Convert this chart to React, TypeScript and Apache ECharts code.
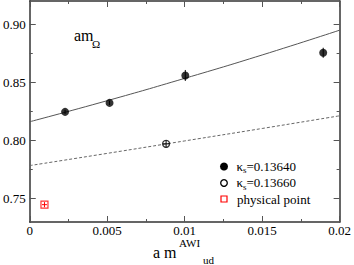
import React, { useEffect, useRef } from "react";
import * as echarts from "echarts";

// ---- data ----
const filledX = [0.00228, 0.00515, 0.01004, 0.01894];
const filledY = [0.8247, 0.8324, 0.856, 0.8755];
const filledYErr = [0.0018, 0.0018, 0.0047, 0.0043];

const openX = [0.0088];
const openY = [0.7972];
const openYErr = [0.0028];
const openXErr = [0.0002];

const physX = [0.00095];
const physY = [0.7449];
const physYErr = [0.0022];
const physXErr = [0.00016];

const fitX = [0, 0.005, 0.01, 0.015, 0.02];
const fitSolid = [0.8162, 0.8343, 0.8535, 0.8736, 0.8949];
const fitDashed = [0.7785, 0.789, 0.7997, 0.8104, 0.8213];

const yMajorTicks = [0.75, 0.8, 0.85, 0.9];
const yMinorTicks = [0.775, 0.825, 0.875];

const legendNames = ["=0.13640", "=0.13660", "physical point"];

const FAMILY = "Liberation Serif";
const FONT = '"Liberation Serif", serif';

export default function App() {
  const ref = useRef<HTMLDivElement>(null);
  useEffect(() => {
    if (!ref.current) return;
    const chart = echarts.init(ref.current, null, { renderer: "svg" });

    const axisLineStyle = { color: "#333", width: 1.5 };
    const tickStyle = { color: "#555", width: 1 };

    const xCommon = {
      type: "value",
      min: 0,
      max: 0.02,
      interval: 0.005,
      splitLine: { show: false },
      axisLine: { show: true, lineStyle: axisLineStyle },
      axisTick: { show: true, inside: true, length: 6, lineStyle: tickStyle },
      minorTick: { show: true, splitNumber: 2, length: 3, lineStyle: tickStyle },
    };

    const yCommon = {
      type: "value",
      min: 0.73,
      max: 0.92,
      splitLine: { show: false },
    };

    const errData = (xs: number[], ys: number[], xe: number[], ye: number[]) =>
      xs.map((x, i) => [x, ys[i], xe[i], ye[i]]);

    const errRender = (color: string) => (params: any, api: any) => {
      const x = api.value(0);
      const y = api.value(1);
      const dx = api.value(2);
      const dy = api.value(3);
      const lo = api.coord([x, y - dy]);
      const hi = api.coord([x, y + dy]);
      const l = api.coord([x - dx, y]);
      const r = api.coord([x + dx, y]);
      const children: any[] = [
        { type: "line", shape: { x1: lo[0], y1: lo[1], x2: hi[0], y2: hi[1] }, style: { stroke: color, lineWidth: 1 } },
      ];
      if (dx > 0) {
        children.push({ type: "line", shape: { x1: l[0], y1: l[1], x2: r[0], y2: r[1] }, style: { stroke: color, lineWidth: 1 } });
      }
      return { type: "group", children };
    };

    const labelStyle = { fontSize: 13, color: "#000", fontFamily: FAMILY };

    const option: any = {
      animation: false,
      backgroundColor: "#fff",
      textStyle: { fontFamily: FAMILY },
      grid: { left: 27, top: 1, width: 315, height: 221, containLabel: false },
      xAxis: [
        {
          ...xCommon,
          position: "bottom",
          axisLabel: { show: true, ...labelStyle, margin: 2 },
        },
        { ...xCommon, position: "top", axisLabel: { show: false } },
      ],
      yAxis: [
        {
          ...yCommon,
          position: "left",
          axisLine: { show: true, lineStyle: axisLineStyle },
          axisTick: { show: true, inside: true, length: 6, lineStyle: tickStyle, customValues: yMajorTicks },
          axisLabel: {
            show: true,
            ...labelStyle,
            margin: 4,
            customValues: yMajorTicks,
            formatter: (v: number) => v.toFixed(2),
          },
        },
        {
          ...yCommon,
          position: "left",
          axisLine: { show: false },
          axisTick: { show: true, inside: true, length: 3, lineStyle: tickStyle, customValues: yMinorTicks },
          axisLabel: { show: false },
        },
        {
          ...yCommon,
          position: "right",
          axisLine: { show: true, lineStyle: axisLineStyle },
          axisTick: { show: true, inside: true, length: 6, lineStyle: tickStyle, customValues: yMajorTicks },
          axisLabel: { show: false },
        },
        {
          ...yCommon,
          position: "right",
          axisLine: { show: false },
          axisTick: { show: true, inside: true, length: 3, lineStyle: tickStyle, customValues: yMinorTicks },
          axisLabel: { show: false },
        },
      ],
      series: [
        {
          type: "line",
          name: "fit solid",
          data: fitX.map((x, i) => [x, fitSolid[i]]),
          smooth: true,
          showSymbol: false,
          symbol: "none",
          lineStyle: { color: "#555", width: 1 },
          z: 2,
        },
        {
          type: "line",
          name: "fit dashed",
          data: fitX.map((x, i) => [x, fitDashed[i]]),
          smooth: true,
          showSymbol: false,
          symbol: "none",
          lineStyle: { color: "#666", width: 1, type: [3, 2] },
          z: 2,
        },
        {
          type: "custom",
          name: "err black",
          renderItem: errRender("#000"),
          data: [
            ...errData(filledX, filledY, filledX.map(() => 0), filledYErr),
            ...errData(openX, openY, openXErr, openYErr),
          ],
          encode: { x: 0, y: 1 },
          z: 4,
        },
        {
          type: "custom",
          name: "err red",
          renderItem: errRender("#f00"),
          data: errData(physX, physY, physXErr, physYErr),
          encode: { x: 0, y: 1 },
          z: 4,
        },
        {
          type: "scatter",
          name: "κs=0.13640",
          data: filledX.map((x, i) => [x, filledY[i]]),
          symbol: "circle",
          symbolSize: 8,
          itemStyle: { color: "#000" },
          z: 3,
        },
        {
          type: "scatter",
          name: "κs=0.13660",
          data: openX.map((x, i) => [x, openY[i]]),
          symbol: "circle",
          symbolSize: 7,
          itemStyle: { color: "rgba(0,0,0,0)", borderColor: "#000", borderWidth: 1.3 },
          z: 3,
        },
        {
          type: "scatter",
          name: "physical point",
          data: physX.map((x, i) => [x, physY[i]]),
          symbol: "rect",
          symbolSize: 7,
          itemStyle: { color: "rgba(0,0,0,0)", borderColor: "#f00", borderWidth: 1.2 },
          z: 3,
        },
      ],
      graphic: [
        // title am_Ω
        { type: "text", x: 74, y: 35.6, style: { text: "am", font: `16px ${FONT}`, fill: "#000", verticalAlign: "middle" } },
        { type: "text", x: 92, y: 44.3, style: { text: "Ω", font: `11px ${FONT}`, fill: "#000", verticalAlign: "middle" } },
        // x axis title
        { type: "text", x: 153, y: 252, style: { text: "a m", font: `16px ${FONT}`, fill: "#000", verticalAlign: "middle" } },
        { type: "text", x: 179, y: 242.5, style: { text: "AWI", font: `11px ${FONT}`, fill: "#000", verticalAlign: "middle" } },
        { type: "text", x: 203, y: 259.5, style: { text: "ud", font: `11px ${FONT}`, fill: "#000", verticalAlign: "middle" } },
        // legend
        { type: "circle", shape: { cx: 224, cy: 166.5, r: 4 }, style: { fill: "#000" } },
        { type: "text", x: 236.5, y: 166, style: { text: "κ", font: `13px ${FONT}`, fill: "#000", verticalAlign: "middle" } },
        { type: "text", x: 243, y: 170, style: { text: "s", font: `9px ${FONT}`, fill: "#000", verticalAlign: "middle" } },
        { type: "text", x: 246.5, y: 166, style: { text: legendNames[0], font: `13px ${FONT}`, fill: "#000", verticalAlign: "middle" } },

        { type: "circle", shape: { cx: 224, cy: 183, r: 3.3 }, style: { fill: "none", stroke: "#000", lineWidth: 1.3 } },
        { type: "text", x: 236.5, y: 182.5, style: { text: "κ", font: `13px ${FONT}`, fill: "#000", verticalAlign: "middle" } },
        { type: "text", x: 243, y: 186.5, style: { text: "s", font: `9px ${FONT}`, fill: "#000", verticalAlign: "middle" } },
        { type: "text", x: 246.5, y: 182.5, style: { text: legendNames[1], font: `13px ${FONT}`, fill: "#000", verticalAlign: "middle" } },

        { type: "rect", shape: { x: 221, y: 196, width: 6, height: 6 }, style: { fill: "none", stroke: "#f00", lineWidth: 1.2 } },
        { type: "text", x: 237, y: 199, style: { text: legendNames[2], font: `13px ${FONT}`, fill: "#000", verticalAlign: "middle" } },
      ],
    };

    chart.setOption(option);
    return () => chart.dispose();
  }, []);

  return (
    <div
      ref={ref}
      style={{ position: "absolute", left: 0, top: 0, width: 354, height: 265, background: "#fff" }}
    />
  );
}
